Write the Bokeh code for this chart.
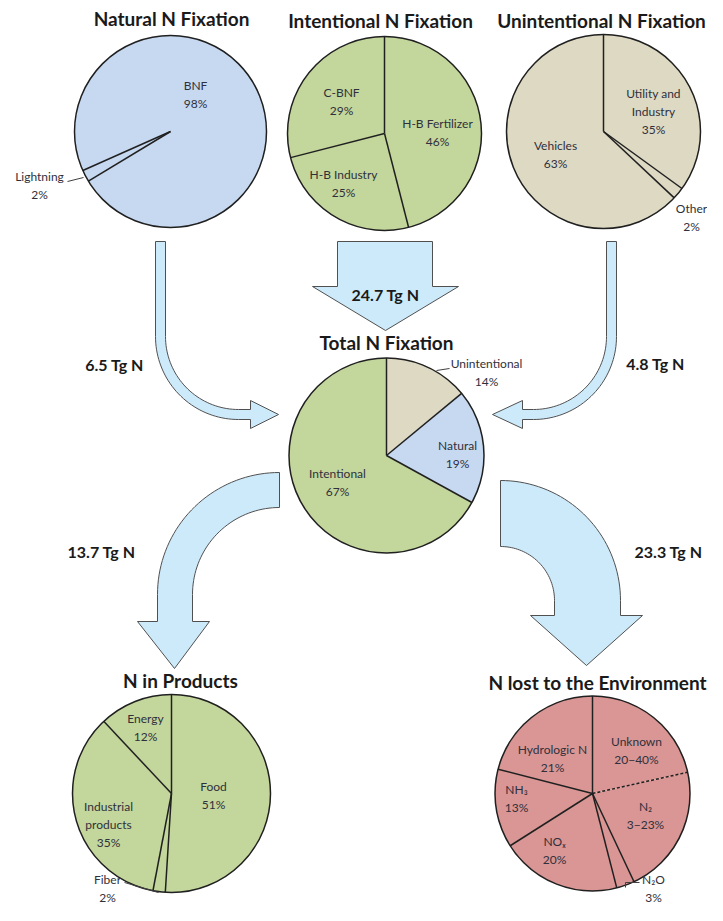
import numpy as np
from bokeh.plotting import figure
from bokeh.models import Range1d
from bokeh.core.properties import value
from bokeh.embed import file_html
from bokeh.resources import INLINE

# ---------------- data ----------------
natural_labels = ["BNF", "Lightning"]
natural_values = [98, 2]
intentional_labels = ["H-B Fertilizer", "H-B Industry", "C-BNF"]
intentional_values = [46, 25, 29]
unintentional_labels = ["Utility and\nIndustry", "Other", "Vehicles"]
unintentional_values = [35, 2, 63]
total_labels = ["Unintentional", "Natural", "Intentional"]
total_values = [14, 19, 67]
products_labels = ["Food", "Fiber", "Industrial\nproducts", "Energy"]
products_values = [51, 2, 35, 12]
lost_labels = ["Unknown", "N₂", "N₂O", "NOₓ", "NH₃", "Hydrologic N"]
lost_values = [21.5, 21.5, 3, 20, 13, 21]
lost_pct_text = ["20−40%", "3−23%", "3%", "20%", "13%", "21%"]
flow_names = ["Natural", "Intentional", "Unintentional", "Products", "Lost"]
flow_values = [6.5, 24.7, 4.8, 13.7, 23.3]

# ---------------- layout / style ----------------
W, H = 707, 905
def Y(py):
    return H - np.asarray(py, dtype=float)

FONT = "Lato"
LINE = "#202020"
TXT = "#30303c"
ARROW_FILL = "#cdeafb"
ARROW_LINE = "#505050"

p = figure(width=W, height=H, output_backend="svg", toolbar_location=None,
           x_range=Range1d(0, W), y_range=Range1d(0, H),
           min_border=0, outline_line_color=None)
p.axis.visible = False
p.grid.visible = False
p.background_fill_color = "white"

# ---------------- arrows ----------------
def arc(cx, cy, r, t0, t1, fx, fy, n=40):
    t = np.linspace(t0, t1, n)
    return list(cx + r * fx(t)), list(cy + r * fy(t))

def add_poly(xs, ys):
    p.patch(xs, list(Y(ys)), fill_color=ARROW_FILL, line_color=ARROW_LINE, line_width=1)

# middle straight arrow (24.7)
mx = [337, 432, 432, 458, 385, 312, 337]
my = [241, 241, 286, 286, 330, 286, 286]
add_poly(mx, my)

# left curved arrow (6.5) -> right
cx, cy, ro, ri = 238, 336, 83, 73
ox, oy = arc(cx, cy, ro, 0, np.pi / 2, lambda t: -np.cos(t), lambda t: np.sin(t))
ix, iy = arc(cx, cy, ri, np.pi / 2, 0, lambda t: -np.cos(t), lambda t: np.sin(t))
lx = [cx - ro] + ox + [250, 250, 278, 250, 250] + ix + [cx - ri]
ly = [241] + oy + [cy + ro, 428, 414, 400, cy + ri] + iy + [241]
add_poly(lx, ly)

# right curved arrow (4.8) -> left
cx, cy, ro, ri = 533, 336, 83, 73
ox, oy = arc(cx, cy, ro, 0, np.pi / 2, lambda t: np.cos(t), lambda t: np.sin(t))
ix, iy = arc(cx, cy, ri, np.pi / 2, 0, lambda t: np.cos(t), lambda t: np.sin(t))
rx = [cx + ro] + ox + [522, 522, 492, 522, 522] + ix + [cx + ri]
ry = [241] + oy + [cy + ro, 428, 414, 400, cy + ri] + iy + [241]
add_poly(rx, ry)

# lower-left arrow (13.7)
cx, cy, ro, ri = 279, 594, 122, 87
ox, oy = arc(cx, cy, ro, 0, np.pi / 2, lambda t: -np.sin(t), lambda t: -np.cos(t))
ix, iy = arc(cx, cy, ri, np.pi / 2, 0, lambda t: -np.sin(t), lambda t: -np.cos(t))
bx = ox + [cx - ro, 137, 174, 209, cx - ri] + ix
by = oy + [621, 621, 668, 621, 621] + iy
add_poly(bx, by)

# lower-right arrow (23.3)
cx, cy, ro, ri = 500, 600, 120, 54
ox, oy = arc(cx, cy, ro, 0, np.pi / 2, lambda t: np.sin(t), lambda t: -np.cos(t))
ix, iy = arc(cx, cy, ri, np.pi / 2, 0, lambda t: np.sin(t), lambda t: -np.cos(t))
ex = ox + [cx + ro, 642, 586, 530, cx + ri] + ix
ey = oy + [615, 615, 665, 615, 615] + iy
add_poly(ex, ey)

# flow labels
flow_pos = [(114, 364), (385, 294), (655, 363), (101, 551), (668, 551)]
p.text([q[0] for q in flow_pos], list(Y([q[1] for q in flow_pos])),
       text=[f"{v} Tg N" for v in flow_values],
       text_align="center", text_baseline="middle", text_font=value(FONT),
       text_font_style="bold", text_font_size="16px", text_color="#1a1a1a")

# ---------------- pies ----------------
def pie(values, labels, center, r, start_clock, color, label_pos, title, title_pos,
        pct_text=None, dashed=()):
    vals = np.asarray(values, dtype=float)
    frac = vals / vals.sum()
    c_edges = np.radians(start_clock) + np.concatenate([[0], np.cumsum(frac)]) * 2 * np.pi
    math_edges = np.pi / 2 - c_edges
    cxp, cyp = center
    n = len(vals)
    p.wedge(x=[cxp] * n, y=list(Y([cyp] * n)), radius=r,
            start_angle=list(math_edges[:-1]), end_angle=list(math_edges[1:]),
            direction="clock", fill_color=color, line_color=None)
    for i in range(n):
        a = math_edges[i]
        kw = dict(line_color=LINE, line_width=1.5)
        if i in dashed:
            kw["line_dash"] = "3 2"
        p.segment(x0=[cxp], y0=list(Y([cyp])), x1=[cxp + r * np.cos(a)],
                  y1=[float(Y(cyp)) + r * np.sin(a)], **kw)
    p.circle(x=[cxp], y=list(Y([cyp])), radius=r, fill_color=None,
             line_color=LINE, line_width=1.5)
    if pct_text is None:
        pct_text = [f"{v:g}%" for v in values]
    txt = [f"{l}\n{t}" for l, t in zip(labels, pct_text)]
    p.text([q[0] for q in label_pos], list(Y([q[1] for q in label_pos])), text=txt,
           text_align="center", text_baseline="middle", text_font=value(FONT),
           text_font_size="12px", text_color=TXT, text_line_height=1.2)
    p.text([title_pos[0]], list(Y([title_pos[1]])), text=[title],
           text_align="center", text_baseline="middle", text_font=value(FONT),
           text_font_style="bold", text_font_size="19px", text_color="#1a1a1a")

BLUE = "#c6d9f1"
GREEN = "#c3d69b"
TAN = "#ddd9c3"
RED = "#d99694"

pie(natural_values, natural_labels, (170, 131), 96, 246, BLUE,
    [(195, 94), (39, 185)], "Natural N Fixation", (171, 18))
pie(intentional_values, intentional_labels, (384, 133), 97, 0, GREEN,
    [(437, 132), (343, 183), (341, 101)], "Intentional N Fixation", (380, 20))
pie(unintentional_values, unintentional_labels, (603, 131), 97, 0, TAN,
    [(653, 111), (691, 217), (555, 154)], "Unintentional N Fixation", (601, 20))
pie(total_values, total_labels, (386, 455), 97.5, 0, [TAN, BLUE, GREEN],
    [(486, 372), (457, 454), (337, 482)], "Total N Fixation", (386, 342))
pie(products_values, products_labels, (171, 793), 99, 0, GREEN,
    [(213, 795), (107, 888), (108, 824), (145, 727)], "N in Products", (180, 680))
pie(lost_values, lost_labels, (592, 793), 97.5, 0, RED,
    [(636, 750), (645, 815), (653, 888), (554, 850), (516, 798), (552, 758)],
    "N lost to the Environment", (597, 682), pct_text=lost_pct_text, dashed=(1,))

# leader lines
def leader(xs, ys):
    p.line(xs, list(Y(ys)), line_color="#404040", line_width=1)

leader([67, 83], [181, 177])              # Lightning
leader([436, 449], [370, 368])            # Unintentional (total)
leader([124, 158], [882, 892])            # Fiber
leader([625, 625, 639], [887, 882, 882])  # N2O

open("out.html", "w").write(file_html(p, INLINE))
